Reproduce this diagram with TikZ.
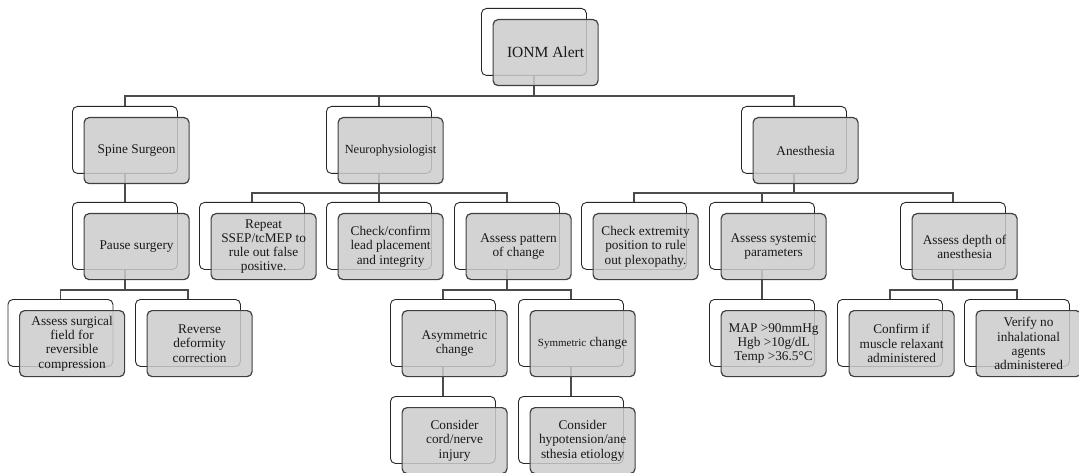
\documentclass[tikz,border=0pt]{standalone}
\usepackage{fontspec}
\setmainfont{Liberation Serif}
\begin{document}
\begin{tikzpicture}[x=1pt,y=-1pt,
  back/.style={draw=black!85, fill=white, rounded corners=5pt, line width=0.9pt,
    minimum width=105pt, minimum height=67pt, anchor=north west, inner sep=0pt},
  front/.style={draw=black!75, fill=gray!40, fill opacity=0.85, text opacity=1,
    rounded corners=5pt, line width=1.2pt, minimum width=105pt, minimum height=66pt,
    anchor=north west, align=center, inner sep=1pt, text=black!90,
    font=\fontsize{13.3}{14.3}\selectfont},
  conn/.style={draw=black!70, line width=1.1pt}]
\useasboundingbox (0,0) rectangle (1079,473);
\coordinate (bar0) at (0,96);
\coordinate (bar1) at (0,193);
\coordinate (bar2) at (0,290);
% back boxes
\foreach \n/\x/\y in {ionm/481/8, ss/72/106, np/326/106, an/741/106,
  ps/72/202, rp/199/202, cc/326/202, ap/454/202, ce/581/202, as/709/202, ad/900/202,
  asf/7.5/299, rd/135/299, asy/390/299, sym/518/299, map/709/299, cf/837/299, vn/964/299,
  cord/390/396, hyp/518/396}
  {\node[back] (\n B) at (\x,\y) {};}
% connectors
\draw[conn] (ionmB.south) -- (ionmB.south |- bar0) -| (ssB.north);
\draw[conn] (ionmB.south |- bar0) -| (npB.north);
\draw[conn] (ionmB.south |- bar0) -| (anB.north);
\draw[conn] (ssB.south) -- (psB.north);
\draw[conn] (npB.south) -- (npB.south |- bar1) -| (rpB.north);
\draw[conn] (npB.south |- bar1) -| (ccB.north);
\draw[conn] (npB.south |- bar1) -| (apB.north);
\draw[conn] (anB.south) -- (anB.south |- bar1) -| (ceB.north);
\draw[conn] (anB.south |- bar1) -| (asB.north);
\draw[conn] (anB.south |- bar1) -| (adB.north);
\draw[conn] (psB.south) -- (psB.south |- bar2) -| (asfB.north);
\draw[conn] (psB.south |- bar2) -| (rdB.north);
\draw[conn] (apB.south) -- (apB.south |- bar2) -| (asyB.north);
\draw[conn] (apB.south |- bar2) -| (symB.north);
\draw[conn] (asB.south) -- (mapB.north);
\draw[conn] (adB.south) -- (adB.south |- bar2) -| (cfB.north);
\draw[conn] (adB.south |- bar2) -| (vnB.north);
\draw[conn] (asyB.south) -- (cordB.north);
\draw[conn] (symB.south) -- (hypB.north);
% front boxes
\node[front,font=\fontsize{15.5}{16.5}\selectfont] (ionm) at (481+11.5,8+11) {IONM Alert};
\node[front] (ss) at (72+11.5,106+11) {Spine Surgeon};
\node[front,font=\fontsize{12.4}{13.4}\selectfont] (np) at (326+11.5,106+11) {Neurophysiologist};
\node[front] (an) at (741+11.5,106+11) {Anesthesia};
\node[front] (ps) at (72+11.5,202+11) {Pause surgery};
\node[front] (rp) at (199+11.5,202+11) {Repeat\\SSEP/tcMEP to\\rule out false\\positive.};
\node[front] (cc) at (326+11.5,202+11) {Check/confirm\\lead placement\\and integrity};
\node[front] (ap) at (454+11.5,202+11) {Assess pattern\\of change};
\node[front] (ce) at (581+11.5,202+11) {Check extremity\\position to rule\\out plexopathy.};
\node[front] (as) at (709+11.5,202+11) {Assess systemic\\parameters};
\node[front] (ad) at (900+11.5,202+11) {Assess depth of\\anesthesia};
\node[front] (asf) at (7.5+11.5,299+11) {Assess surgical\\field for\\reversible\\compression};
\node[front] (rd) at (135+11.5,299+11) {Reverse\\deformity\\correction};
\node[front] (asy) at (390+11.5,299+11) {Asymmetric\\change};
\node[front] (sym) at (518+11.5,299+11) {{\fontsize{11}{12}\selectfont Symmetric} change};
\node[front] (map) at (709+11.5,299+11) {MAP >90mmHg\\Hgb >10g/dL\\Temp >36.5°C};
\node[front] (cf) at (837+11.5,299+11) {Confirm if\\muscle relaxant\\administered};
\node[front] (vn) at (964+11.5,299+11) {Verify no\\inhalational\\agents\\administered};
\node[front] (cord) at (390+11.5,396+11) {Consider\\cord/nerve\\injury};
\node[front] (hyp) at (518+11.5,396+11) {Consider\\hypotension/ane\\sthesia etiology};
\end{tikzpicture}
\end{document}
